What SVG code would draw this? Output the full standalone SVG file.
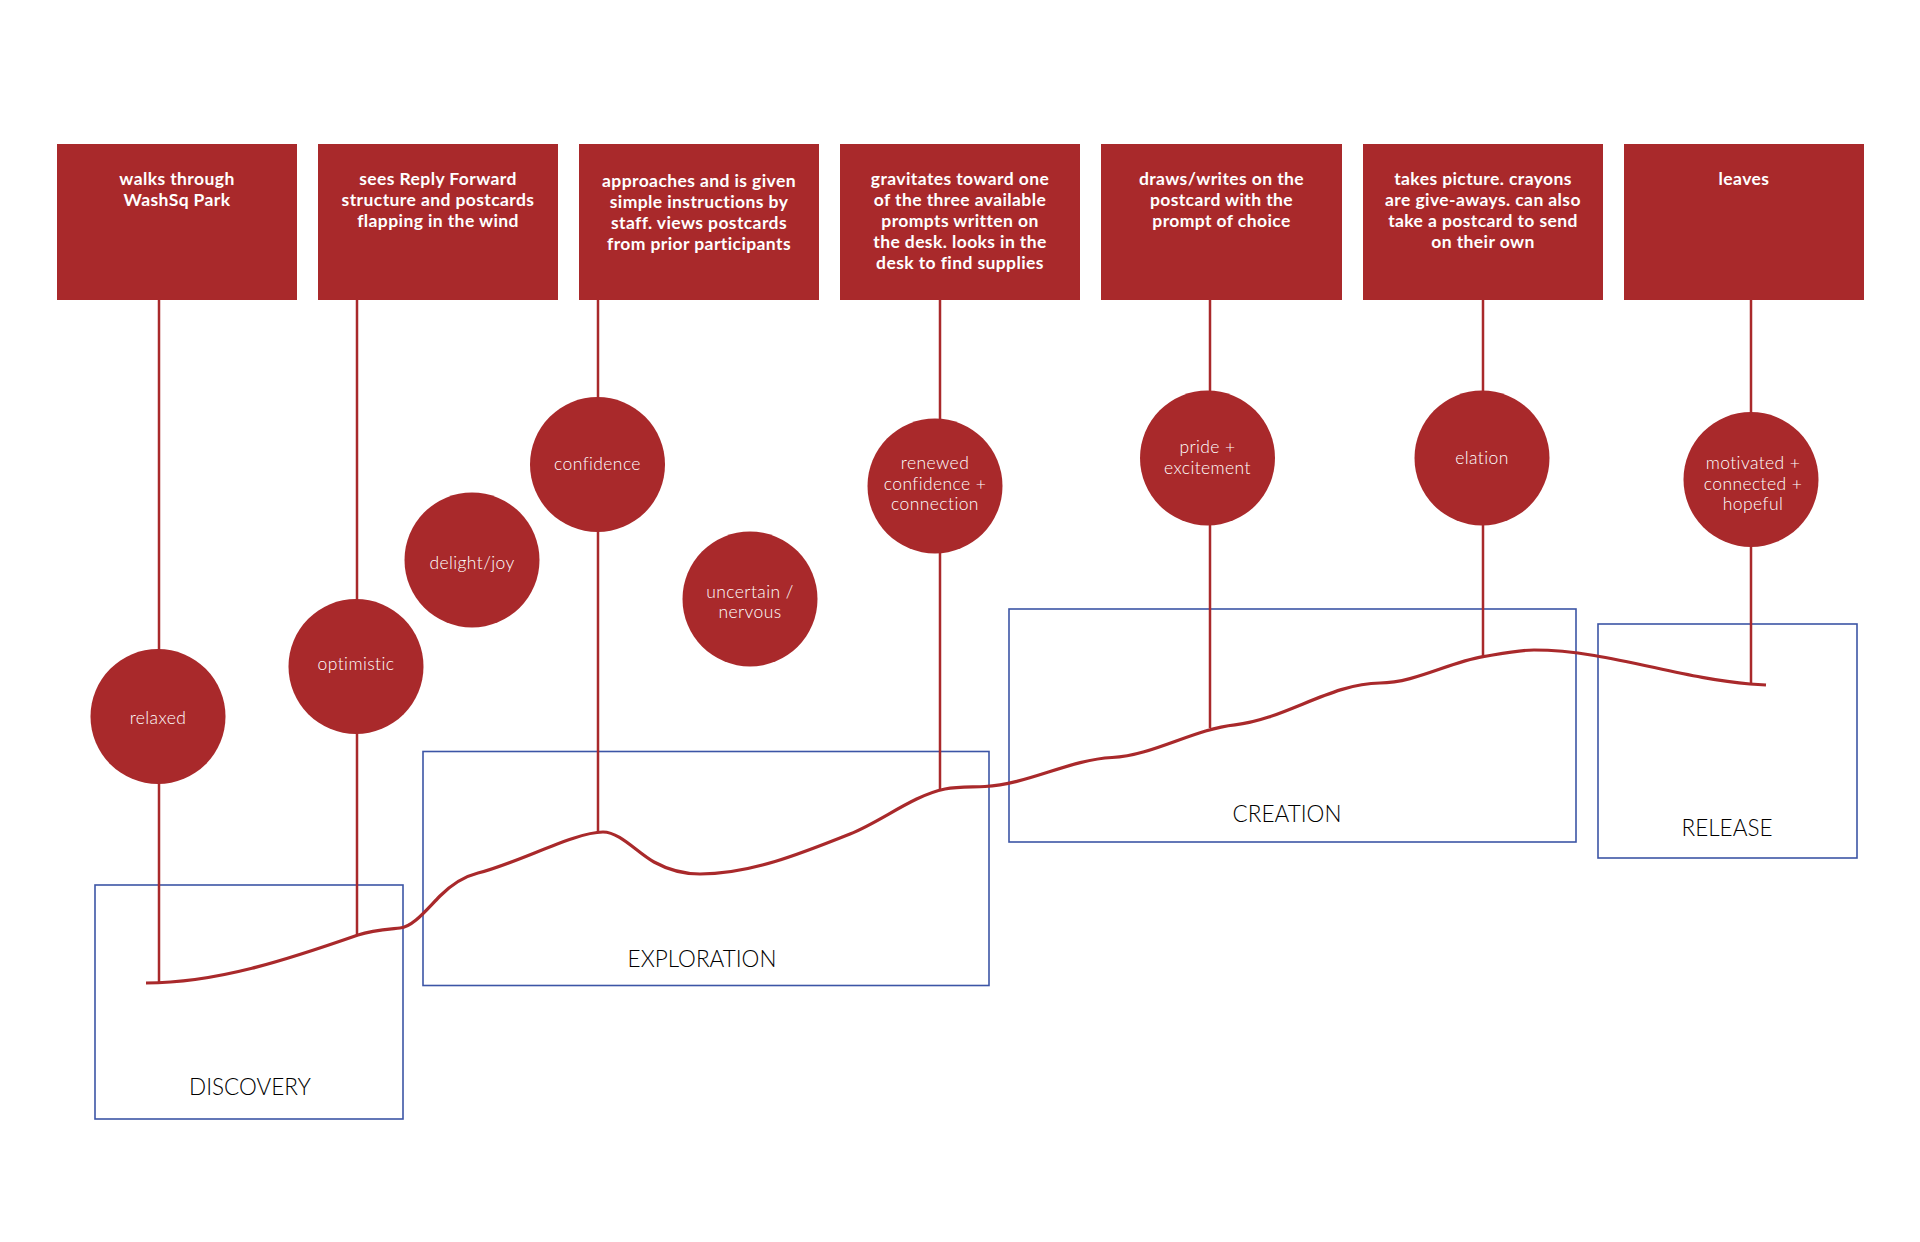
<svg xmlns="http://www.w3.org/2000/svg" width="1920" height="1242" viewBox="0 0 1920 1242">
<style>
.box{fill:#a9292b}
.bt{fill:#ffffff;font-family:Lato,"Open Sans","Liberation Sans",sans-serif;font-weight:bold;font-size:17.5px;letter-spacing:0.4px;text-anchor:middle}
.emo{fill:#a9292b}
.et{fill:#ffffff;font-family:Lato,"Open Sans","Liberation Sans",sans-serif;font-weight:300;font-size:17.5px;letter-spacing:0.4px;text-anchor:middle}
.stage{fill:none;stroke:#3c55a6;stroke-width:1.6}
.st{fill:#000000;font-family:Lato,"Open Sans","Liberation Sans",sans-serif;font-weight:300;font-size:22.5px;text-anchor:middle}
.ln{stroke:#a9292b;stroke-width:2.5;fill:none}
.curve{stroke:#a9292b;stroke-width:3.2;fill:none;stroke-linecap:butt}
</style>
<rect width="1920" height="1242" fill="#ffffff"/>
<g id="stages">
<g id="stage-discovery"><rect class="stage" x="95" y="885" width="308" height="234"/><text class="st" x="250" y="1095">DISCOVERY</text></g>
<g id="stage-exploration"><rect class="stage" x="423" y="751.5" width="566" height="234"/><text class="st" x="702" y="967">EXPLORATION</text></g>
<g id="stage-creation"><rect class="stage" x="1009" y="609" width="567" height="233"/><text class="st" x="1287" y="822">CREATION</text></g>
<g id="stage-release"><rect class="stage" x="1598" y="624" width="259" height="234"/><text class="st" x="1727" y="836">RELEASE</text></g>
</g>
<g id="connectors">
<line class="ln" x1="159" y1="300" x2="159" y2="982"/>
<line class="ln" x1="357" y1="300" x2="357" y2="935"/>
<line class="ln" x1="598" y1="300" x2="598" y2="832"/>
<line class="ln" x1="940" y1="300" x2="940" y2="790"/>
<line class="ln" x1="1210" y1="300" x2="1210" y2="728"/>
<line class="ln" x1="1483" y1="300" x2="1483" y2="657"/>
<line class="ln" x1="1751" y1="300" x2="1751" y2="684"/>
<path class="curve" d="M146,983 C216.7,983 287.3,959.7 358,935 C372,930.1 386,929.4 400,928 C413.3,926.7 426.7,909.3 440,896 C452.7,883.3 465.3,876.2 478,873 C518.3,862.9 575,832 603,832 C620,832 637,852.6 654,862 C669.3,870.4 684.7,874 700,874 C750,874 800,854 850,834 C881.7,821.3 913.3,795.3 945,789 C958.3,786.3 971.7,787.2 985,786.5 C1027.3,784.4 1069.7,759.6 1112,757.5 C1153,755.5 1194,728.9 1235,724.8 C1283.3,720 1331.7,683 1380,683 C1414.3,683 1448.7,662.5 1483,656.7 C1500,653.8 1517,650 1534,650 C1606,650 1678,678.2 1750,684 L1766,685"/>
</g>
<g id="step-1"><rect class="box" x="57" y="144" width="240" height="156"/><text class="bt" x="177" y="185">walks through</text><text class="bt" x="177" y="206">WashSq Park</text></g>
<g id="step-2"><rect class="box" x="318" y="144" width="240" height="156"/><text class="bt" x="438" y="185">sees Reply Forward</text><text class="bt" x="438" y="206">structure and postcards</text><text class="bt" x="438" y="227">flapping in the wind</text></g>
<g id="step-3"><rect class="box" x="579" y="144" width="240" height="156"/><text class="bt" x="699" y="187">approaches and is given</text><text class="bt" x="699" y="208">simple instructions by</text><text class="bt" x="699" y="229">staff. views postcards</text><text class="bt" x="699" y="250">from prior participants</text></g>
<g id="step-4"><rect class="box" x="840" y="144" width="240" height="156"/><text class="bt" x="960" y="185">gravitates toward one</text><text class="bt" x="960" y="206">of the three available</text><text class="bt" x="960" y="227">prompts written on</text><text class="bt" x="960" y="248">the desk. looks in the</text><text class="bt" x="960" y="269">desk to find supplies</text></g>
<g id="step-5"><rect class="box" x="1101" y="144" width="241" height="156"/><text class="bt" x="1221.5" y="185">draws/writes on the</text><text class="bt" x="1221.5" y="206">postcard with the</text><text class="bt" x="1221.5" y="227">prompt of choice</text></g>
<g id="step-6"><rect class="box" x="1363" y="144" width="240" height="156"/><text class="bt" x="1483" y="185">takes picture. crayons</text><text class="bt" x="1483" y="206">are give-aways. can also</text><text class="bt" x="1483" y="227">take a postcard to send</text><text class="bt" x="1483" y="248">on their own</text></g>
<g id="step-7"><rect class="box" x="1624" y="144" width="240" height="156"/><text class="bt" x="1744" y="185">leaves</text></g>
<g id="emotion-relaxed"><circle class="emo" cx="158" cy="716.5" r="67.5"/><text class="et" x="158" y="724">relaxed</text></g>
<g id="emotion-optimistic"><circle class="emo" cx="356" cy="666.5" r="67.5"/><text class="et" x="356" y="670">optimistic</text></g>
<g id="emotion-delight"><circle class="emo" cx="472" cy="560" r="67.5"/><text class="et" x="472" y="569">delight/joy</text></g>
<g id="emotion-confidence"><circle class="emo" cx="597.5" cy="464.5" r="67.5"/><text class="et" x="597.5" y="470">confidence</text></g>
<g id="emotion-uncertain"><circle class="emo" cx="750" cy="599" r="67.5"/><text class="et" x="750" y="598">uncertain /</text><text class="et" x="750" y="618">nervous</text></g>
<g id="emotion-renewed"><circle class="emo" cx="935" cy="486" r="67.5"/><text class="et" x="935" y="469">renewed</text><text class="et" x="935" y="490">confidence +</text><text class="et" x="935" y="510">connection</text></g>
<g id="emotion-pride"><circle class="emo" cx="1207.5" cy="458" r="67.5"/><text class="et" x="1207.5" y="453">pride +</text><text class="et" x="1207.5" y="474">excitement</text></g>
<g id="emotion-elation"><circle class="emo" cx="1482" cy="458" r="67.5"/><text class="et" x="1482" y="464">elation</text></g>
<g id="emotion-motivated"><circle class="emo" cx="1751" cy="479.5" r="67.5"/><text class="et" x="1753" y="469">motivated +</text><text class="et" x="1753" y="490">connected +</text><text class="et" x="1753" y="510">hopeful</text></g>
</svg>
